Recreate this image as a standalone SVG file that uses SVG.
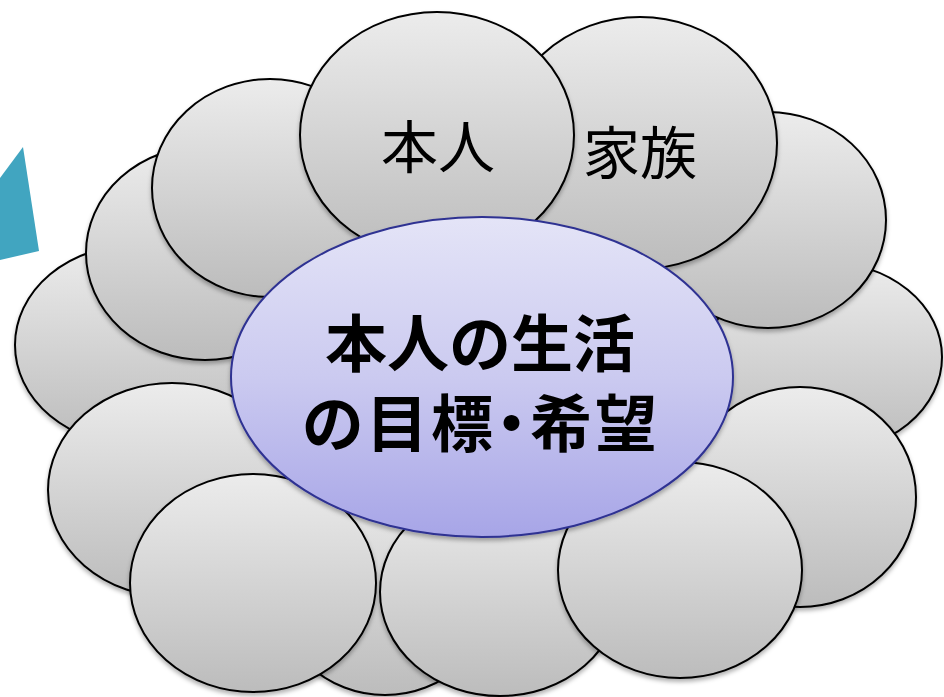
<svg xmlns="http://www.w3.org/2000/svg" width="944" height="697" viewBox="0 0 944 697">
<defs>
<linearGradient id="g" x1="0" y1="0" x2="0" y2="1">
<stop offset="0" stop-color="#ececec"/>
<stop offset="1" stop-color="#bcbcbc"/>
</linearGradient>
<linearGradient id="c" x1="0" y1="0" x2="0" y2="1">
<stop offset="0" stop-color="#e4e4f7"/>
<stop offset="0.5" stop-color="#cbcaf0"/>
<stop offset="1" stop-color="#a7a5e7"/>
</linearGradient>
<filter id="sh" x="-10%" y="-10%" width="120%" height="125%">
<feDropShadow dx="0" dy="3" stdDeviation="2" flood-color="#000" flood-opacity="0.3"/>
</filter>
</defs>
<style>
.e{fill:url(#g);stroke:#000;stroke-width:2;filter:url(#sh)}
.m{fill:url(#c);stroke:#2e3192;stroke-width:2;filter:url(#sh)}
.t{font-family:"Noto Sans CJK JP","Noto Sans CJK SC",sans-serif;fill:#000;text-anchor:middle}
.p{font-feature-settings:"palt";letter-spacing:3px}
</style>
<polygon points="0,178 23,147 39,251 0,260" fill="#41a5c0"/>
<g id="nE"><ellipse class="e" cx="135" cy="345" rx="120" ry="100"/></g>
<g id="nD"><ellipse class="e" cx="205" cy="253" rx="119" ry="107"/></g>
<g id="nC"><ellipse class="e" cx="270" cy="188" rx="118" ry="109"/></g>
<g id="nL"><ellipse class="e" cx="825" cy="357" rx="117" ry="95"/></g>
<g id="nM"><ellipse class="e" cx="768" cy="220" rx="118" ry="108"/></g>
<g id="nB"><ellipse class="e" cx="640" cy="143" rx="137" ry="126"/>
<text class="t" x="640" y="174" font-size="57">家族</text></g>
<g id="nA"><ellipse class="e" cx="437" cy="135" rx="137" ry="123"/>
<text class="t" x="438" y="168" font-size="57">本人</text></g>
<g id="nK"><ellipse class="e" cx="800" cy="497" rx="116" ry="110"/></g>
<g id="nH"><ellipse class="e" cx="385" cy="588" rx="110" ry="107"/></g>
<g id="nI"><ellipse class="e" cx="500" cy="592" rx="120" ry="104"/></g>
<g id="nJ"><ellipse class="e" cx="680" cy="570" rx="122" ry="108"/></g>
<g id="nF"><ellipse class="e" cx="172" cy="490" rx="124" ry="107"/></g>
<g id="nG"><ellipse class="e" cx="253" cy="583" rx="123" ry="109"/></g>
<g id="center"><ellipse class="m" cx="482" cy="377" rx="251" ry="160"/>
<text class="t" x="480" y="367" font-size="62" font-weight="bold">本人の生活</text>
<text class="t p" x="481" y="447" font-size="62" font-weight="bold">の目標・希望</text></g>
<g id="connectors"/>
</svg>
